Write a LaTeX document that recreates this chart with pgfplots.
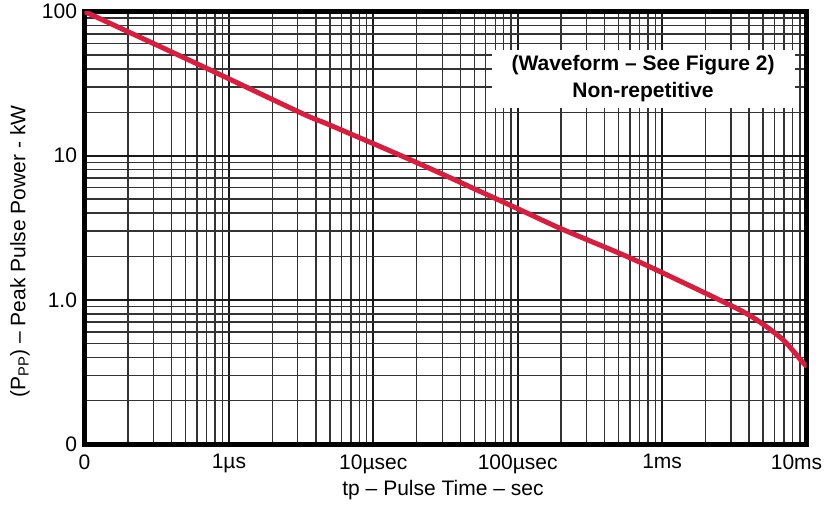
\documentclass[border=0pt]{standalone}
\usepackage{fontspec}
\setmainfont{Liberation Sans}
\usepackage{pgfplots}
\pgfplotsset{compat=1.18}
\definecolor{curvered}{RGB}{216,30,62}
\begin{document}
\begin{tikzpicture}
\begin{axis}[
 scale only axis, width=722pt, height=432.5pt,
 xmode=log, ymode=log,
 xmin=0.1, xmax=10000, ymin=0.1, ymax=100,
 xtick={0.1,1,10,100,1000,10000},
 xticklabels={0,1µs,10µsec,100µsec,1ms,10ms\hspace*{20pt}},
 ytick={0.1,1,10,100},
 yticklabels={0,1.0,10,100},
 grid=both,
 major grid style={black!90, line width=1.7pt},
 minor grid style={black!80, line width=1.4pt},
 axis line style={line width=5pt},
 major tick length=0pt, minor tick length=0pt,
 tick label style={font=\fontsize{21}{25}\selectfont},
 xticklabel style={yshift=-7pt},
 yticklabel style={xshift=-4pt},
 xlabel={tp – Pulse Time – sec},
 ylabel={(P\textsubscript{PP}) – Peak Pulse Power - kW},
 label style={font=\fontsize{21}{25}\selectfont},
 xlabel style={at={(axis description cs:0.4965,-0.106)},anchor=center},
 ylabel style={at={(axis description cs:-0.0893,0.445)},anchor=center},
]
\addplot[curvered, line width=5pt, smooth] coordinates {
 (0.1,100) (0.665,41.4) (3.19,19.7) (5.01,16.3) (19.4,9.08) (98.4,4.32)
 (196,3.14) (538,2.05) (967,1.57) (3110,0.897) (4520,0.726) (6900,0.527)
 (9510,0.365) (10000,0.35)};
\node[fill=white, inner sep=0pt, minimum width=303pt, minimum height=58pt,
 align=center, font=\bfseries\fontsize{21}{27}\selectfont]
 at (axis cs:738,34.1) {(Waveform – See Figure 2)\\Non-repetitive};
\end{axis}
\pgfresetboundingbox
\path[use as bounding box] ([xshift=-84.5pt,yshift=-61pt]current axis.south west) rectangle ([xshift=22.5pt,yshift=11.5pt]current axis.north east);
\end{tikzpicture}
\end{document}
